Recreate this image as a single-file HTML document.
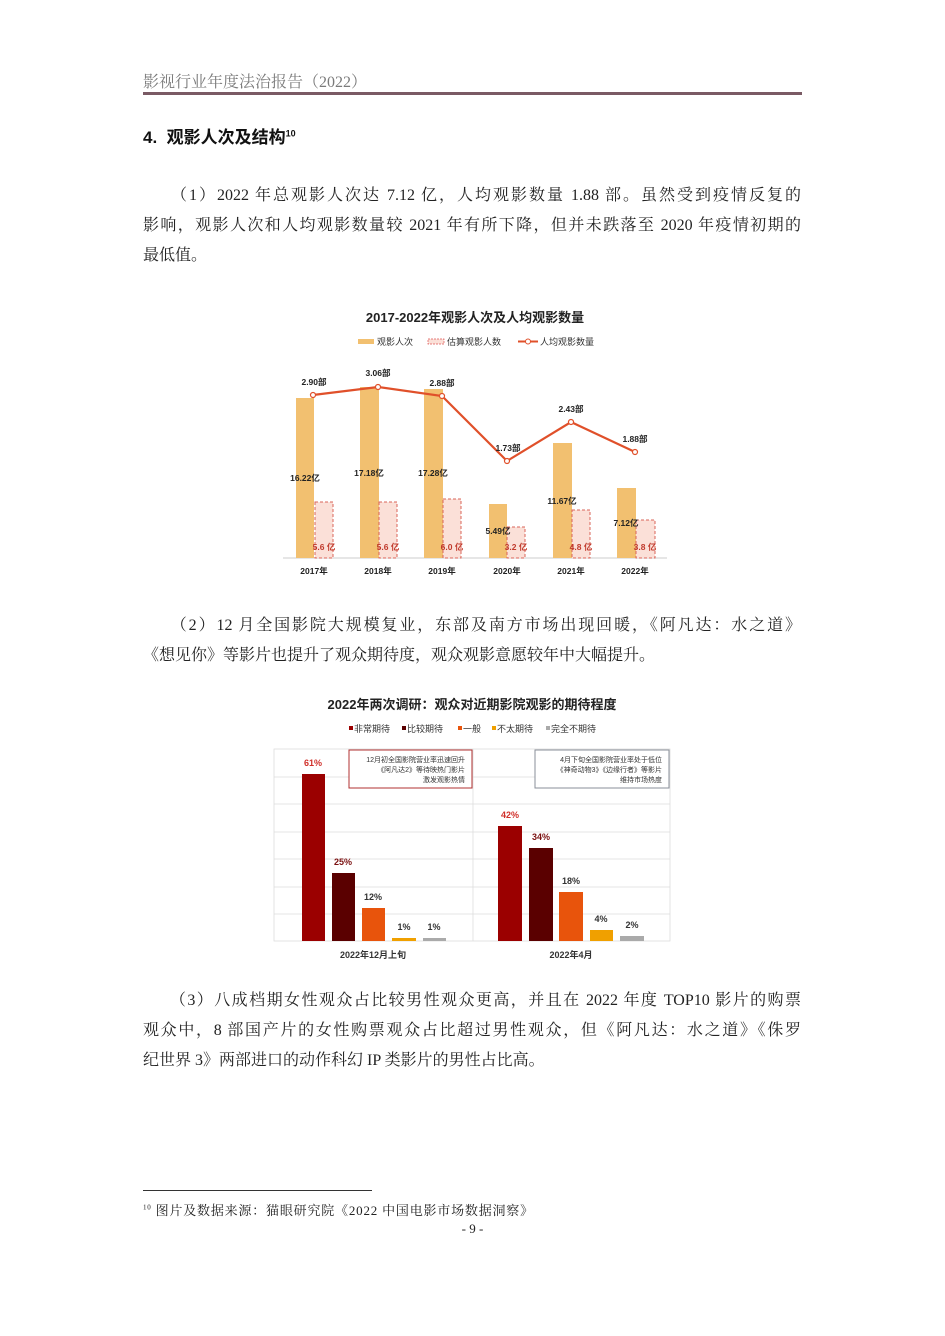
<!DOCTYPE html>
<html><head><meta charset="utf-8"><style>
body{margin:0;width:945px;height:1336px;background:#fff;position:relative;overflow:hidden;font-family:"Liberation Serif","Noto Serif CJK SC",serif;color:#222}
.a{position:absolute;white-space:nowrap}
.l{position:absolute;left:143px;width:658px;font-size:16px;line-height:20px;text-align:justify;text-align-last:justify;white-space:nowrap}
.s{font-family:"Liberation Sans","Noto Sans CJK SC",sans-serif}
</style></head><body>
<div class="a" style="left:143px;top:69px;font-size:16px;color:#7a7a7a">影视行业年度法治报告（2022）</div>
<div class="a" style="left:143px;top:92px;width:659px;height:3px;background:#7a5a64"></div>
<div class="a s" style="left:143px;top:123px;font-size:17px;font-weight:bold;color:#111">4.&nbsp; 观影人次及结构<sup style="font-size:9px">10</sup></div>

<div class="l" style="top:186px">　　（1）2022 年总观影人次达 7.12 亿，人均观影数量 1.88 部。虽然受到疫情反复的</div>
<div class="l" style="top:216px">影响，观影人次和人均观影数量较 2021 年有所下降，但并未跌落至 2020 年疫情初期的</div>
<div class="l" style="top:246px;text-align-last:left">最低值。</div>

<svg class="a" style="left:0;top:0" width="945" height="1336" font-family="Liberation Sans,Noto Sans CJK SC,sans-serif" font-weight="bold">
<text x="475" y="322" font-size="13" text-anchor="middle" fill="#222">2017-2022年观影人次及人均观影数量</text>
<rect x="358" y="339" width="16" height="5" fill="#f2c070"/><text x="377" y="345" font-size="9" font-weight="normal" fill="#333">观影人次</text>
<rect x="428" y="339" width="16" height="5" fill="#fbe0d8" stroke="#d55" stroke-dasharray="2,1" stroke-width="0.7"/><text x="447" y="345" font-size="9" font-weight="normal" fill="#333">估算观影人数</text>
<line x1="518" y1="341.5" x2="538" y2="341.5" stroke="#e0502a" stroke-width="2"/><circle cx="528" cy="341.5" r="2.5" fill="#fff" stroke="#e0502a"/><text x="540" y="345" font-size="9" font-weight="normal" fill="#333">人均观影数量</text>
<line x1="283" y1="558" x2="667" y2="558" stroke="#ccc"/>
<g fill="#f2c070">
<rect x="296" y="398" width="18" height="160"/><rect x="360" y="387" width="19" height="171"/><rect x="424" y="389" width="19" height="169"/>
<rect x="489" y="504" width="18" height="54"/><rect x="553" y="443" width="19" height="115"/><rect x="617" y="488" width="19" height="70"/></g>
<g fill="#fbe0d8" stroke="#d9655a" stroke-dasharray="3,2" stroke-width="1">
<rect x="315" y="502" width="18" height="56"/><rect x="379" y="502" width="18" height="56"/><rect x="443" y="499" width="18" height="59"/>
<rect x="507" y="527" width="18" height="31"/><rect x="572" y="510" width="18" height="48"/><rect x="636" y="520" width="19" height="38"/></g>
<polyline points="313,395 378,387 442,396 507,461 571,422 635,452" fill="none" stroke="#e0502a" stroke-width="2.2"/>
<g fill="#fff" stroke="#e0502a" stroke-width="1.2"><circle cx="313" cy="395" r="2.5"/><circle cx="378" cy="387" r="2.5"/><circle cx="442" cy="396" r="2.5"/><circle cx="507" cy="461" r="2.5"/><circle cx="571" cy="422" r="2.5"/><circle cx="635" cy="452" r="2.5"/></g>
<g font-size="8.5" fill="#222" text-anchor="middle">
<text x="314" y="385">2.90部</text><text x="378" y="376">3.06部</text><text x="442" y="386">2.88部</text><text x="508" y="451">1.73部</text><text x="571" y="412">2.43部</text><text x="635" y="442">1.88部</text>
<text x="305" y="481">16.22亿</text><text x="369" y="476">17.18亿</text><text x="433" y="476">17.28亿</text><text x="498" y="534">5.49亿</text><text x="562" y="504">11.67亿</text><text x="626" y="526">7.12亿</text>
<g fill="#c0392b"><text x="324" y="550">5.6 亿</text><text x="388" y="550">5.6 亿</text><text x="452" y="550">6.0 亿</text><text x="516" y="550">3.2 亿</text><text x="581" y="550">4.8 亿</text><text x="645" y="550">3.8 亿</text></g>
<text x="314" y="574">2017年</text><text x="378" y="574">2018年</text><text x="442" y="574">2019年</text><text x="507" y="574">2020年</text><text x="571" y="574">2021年</text><text x="635" y="574">2022年</text>
</g>

<text x="472" y="709" font-size="13" text-anchor="middle" fill="#222">2022年两次调研：观众对近期影院观影的期待程度</text>
<g font-size="9" font-weight="normal" fill="#333">
<rect x="349" y="726" width="4" height="4" fill="#9b0000"/><text x="354" y="732">非常期待</text>
<rect x="402" y="726" width="4" height="4" fill="#5a0000"/><text x="407" y="732">比较期待</text>
<rect x="458" y="726" width="4" height="4" fill="#e8540c"/><text x="463" y="732">一般</text>
<rect x="492" y="726" width="4" height="4" fill="#f0a000"/><text x="497" y="732">不太期待</text>
<rect x="546" y="726" width="4" height="4" fill="#aaa"/><text x="551" y="732">完全不期待</text></g>
<g stroke="#ddd" stroke-width="0.8"><rect x="274" y="749" width="396" height="192" fill="none"/>
<line x1="274" y1="777" x2="670" y2="777"/><line x1="274" y1="804" x2="670" y2="804"/><line x1="274" y1="832" x2="670" y2="832"/><line x1="274" y1="859" x2="670" y2="859"/><line x1="274" y1="887" x2="670" y2="887"/><line x1="274" y1="914" x2="670" y2="914"/><line x1="473" y1="749" x2="473" y2="941"/></g>
<rect x="349" y="750" width="123" height="38" fill="#fff" stroke="#b03030"/>
<rect x="535" y="750" width="134" height="38" fill="#fff" stroke="#8a8f99"/>
<g font-size="7" font-weight="normal" fill="#333" text-anchor="end">
<text x="465" y="762">12月初全国影院营业率迅速回升</text><text x="465" y="772">《阿凡达2》等待映热门影片</text><text x="465" y="782">激发观影热情</text>
<text x="662" y="762">4月下旬全国影院营业率处于低位</text><text x="662" y="772">《神奇动物3》《边缘行者》等影片</text><text x="662" y="782">维持市场热度</text></g>
<rect x="302" y="774" width="23" height="167" fill="#9b0000"/><rect x="332" y="873" width="23" height="68" fill="#5a0000"/><rect x="362" y="908" width="23" height="33" fill="#e8540c"/><rect x="392" y="938" width="24" height="3" fill="#f0a000"/><rect x="423" y="938" width="23" height="3" fill="#aaa"/>
<rect x="498" y="826" width="24" height="115" fill="#9b0000"/><rect x="529" y="848" width="24" height="93" fill="#5a0000"/><rect x="559" y="892" width="24" height="49" fill="#e8540c"/><rect x="590" y="930" width="23" height="11" fill="#f0a000"/><rect x="620" y="936" width="24" height="5" fill="#aaa"/>
<g font-size="9" text-anchor="middle" fill="#333">
<text x="313" y="766" fill="#d0302a">61%</text><text x="343" y="865" fill="#7a1010">25%</text><text x="373" y="900">12%</text><text x="404" y="930">1%</text><text x="434" y="930">1%</text>
<text x="510" y="818" fill="#d0302a">42%</text><text x="541" y="840" fill="#7a1010">34%</text><text x="571" y="884">18%</text><text x="601" y="922">4%</text><text x="632" y="928">2%</text>
<text x="373" y="958">2022年12月上旬</text><text x="571" y="958">2022年4月</text></g>
</svg>

<div class="l" style="top:616px">　　（2）12 月全国影院大规模复业，东部及南方市场出现回暖，《阿凡达：水之道》</div>
<div class="l" style="top:646px;text-align-last:left">《想见你》等影片也提升了观众期待度，观众观影意愿较年中大幅提升。</div>

<div class="l" style="top:991px">　　（3）八成档期女性观众占比较男性观众更高，并且在 2022 年度 TOP10 影片的购票</div>
<div class="l" style="top:1021px">观众中，8 部国产片的女性购票观众占比超过男性观众，但《阿凡达：水之道》《侏罗</div>
<div class="l" style="top:1051px;text-align-last:left">纪世界 3》两部进口的动作科幻 IP 类影片的男性占比高。</div>

<div class="a" style="left:143px;top:1190px;width:229px;height:1px;background:#333"></div>
<div class="a" style="left:143px;top:1200px;font-size:13px;letter-spacing:0.8px"><sup style="font-size:7px">10</sup> 图片及数据来源：猫眼研究院《2022 中国电影市场数据洞察》</div>
<div class="a" style="left:0;width:945px;top:1221px;font-size:13px;text-align:center">- 9 -</div>
</body></html>
